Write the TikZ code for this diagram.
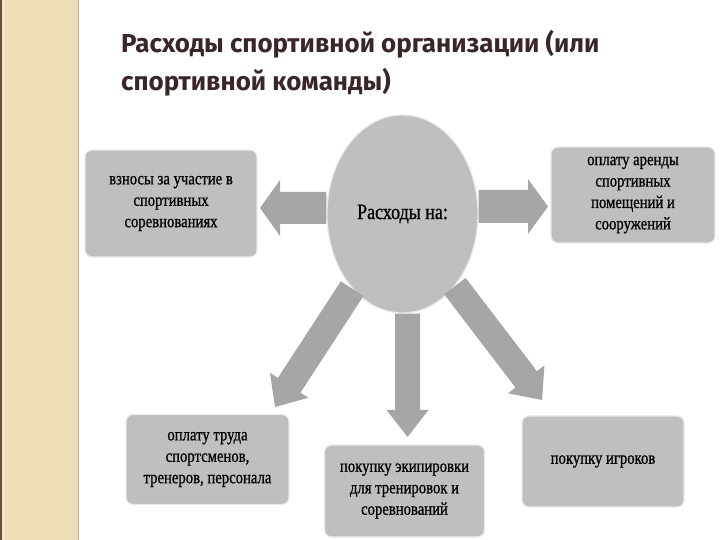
\documentclass[tikz,border=0pt]{standalone}
\usepackage{fontspec}
\setmainfont{Liberation Serif}
\newfontfamily\titlefont{Fira Sans}
\newfontfamily\boxfont{Liberation Serif}[FakeStretch=0.82,FakeBold=0.8]
\usepackage{tikz}
\usetikzlibrary{arrows.meta,positioning,shapes.geometric,calc}

\definecolor{stripbeige}{HTML}{EEDEB6}
\definecolor{stripedge}{HTML}{C9B68C}
\definecolor{stripdark}{HTML}{6B5234}
\definecolor{titlebrown}{HTML}{3A2626}
\definecolor{boxgray}{HTML}{BFBFBF}
\definecolor{arrowgray}{HTML}{A6A6A6}
\definecolor{haze}{HTML}{EAEAEA}

\tikzset{
  costbox/.style={rectangle, rounded corners=7bp, fill=boxgray, draw=haze,
    line width=1.2bp, align=center, inner sep=0pt,
    font=\boxfont\fontsize{18}{21.5}\selectfont},
  % block arrow: shaft width / head width / head length
  costarrow/.style args={#1/#2/#3}{fill=arrowgray, to path={
    ($(\tikztostart)!#1/2!90:(\tikztotarget)$)
    -- ($($(\tikztotarget)!#3!(\tikztostart)$)!#1/2!-90:(\tikztostart)$)
    -- ($($(\tikztotarget)!#3!(\tikztostart)$)!#2/2!-90:(\tikztostart)$)
    -- (\tikztotarget)
    -- ($($(\tikztotarget)!#3!(\tikztostart)$)!#2/2!90:(\tikztostart)$)
    -- ($($(\tikztotarget)!#3!(\tikztostart)$)!#1/2!90:(\tikztostart)$)
    -- ($(\tikztostart)!#1/2!-90:(\tikztotarget)$) -- cycle}},
  titletext/.style={anchor=base west, inner sep=0pt, text=titlebrown,
    font=\titlefont\bfseries\fontsize{26}{30}\selectfont},
}

\begin{document}
\begin{tikzpicture}[x=1bp,y=1bp]
\useasboundingbox (0,0) rectangle (720,540);

% decorative strip on the left
\fill[stripbeige] (0,0) rectangle (79,540);
\draw[stripdark, line width=1.5bp] (0.75,0) -- (0.75,540);
\draw[white!55!stripbeige, line width=1bp] (3,0) -- (3,540);
\draw[stripedge, line width=1.5bp] (78.5,0) -- (78.5,540);

% title
\node[titletext] (title1) at (121,487) {Расходы спортивной организации (или};
\node[titletext] (title2) at (121,449) {спортивной команды)};

% centre
\node[ellipse, fill=boxgray, draw=haze, line width=1.2bp, inner sep=0pt,
      minimum width=151bp, minimum height=198bp,
      font=\boxfont\fontsize{22}{24}\selectfont] (ell) at (402.5,326) {Расходы на:};

% expense items
\node[costbox, minimum width=172bp, minimum height=107bp] (lbox) at (171,336.5)
  {взносы за участие в\\ спортивных\\ соревнованиях};
\node[costbox, minimum width=164bp, minimum height=96bp] (rbox) at (633,345)
  {оплату аренды\\ спортивных\\ помещений и\\ сооружений};
\node[costbox, minimum width=163bp, minimum height=90bp] (blbox) at (207.5,80.5)
  {оплату труда\\ спортсменов,\\ тренеров, персонала};
\node[costbox, minimum width=160bp, minimum height=92bp] (bmbox) at (404.5,49)
  {покупку экипировки\\ для тренировок и\\ соревнований};
\node[costbox, minimum width=162bp, minimum height=91bp] (brbox) at (603,78.5)
  {покупку игроков};

% arrow tips, just short of the boxes
\coordinate (ltip) at (260,332);
\coordinate (rtip) at (548,333.5);
\coordinate (btip) at (407.5,103);
\coordinate (bltip) at (275,133);
\coordinate (brtip) at (542,140);

% arrows
\path[costarrow=32bp/56bp/20bp] ([yshift=6bp]ell.west) to (ltip);
\path[costarrow=33bp/55bp/20bp] ([yshift=7.5bp]ell.east) to (rtip);
\path[costarrow=25bp/42bp/27bp] ([xshift=5bp]ell.south) to (btip);
\path[costarrow=27bp/46bp/26bp] (ell.236.5) to (bltip);
\path[costarrow=27bp/46bp/26bp] (ell.306) to (brtip);
\end{tikzpicture}
\end{document}
